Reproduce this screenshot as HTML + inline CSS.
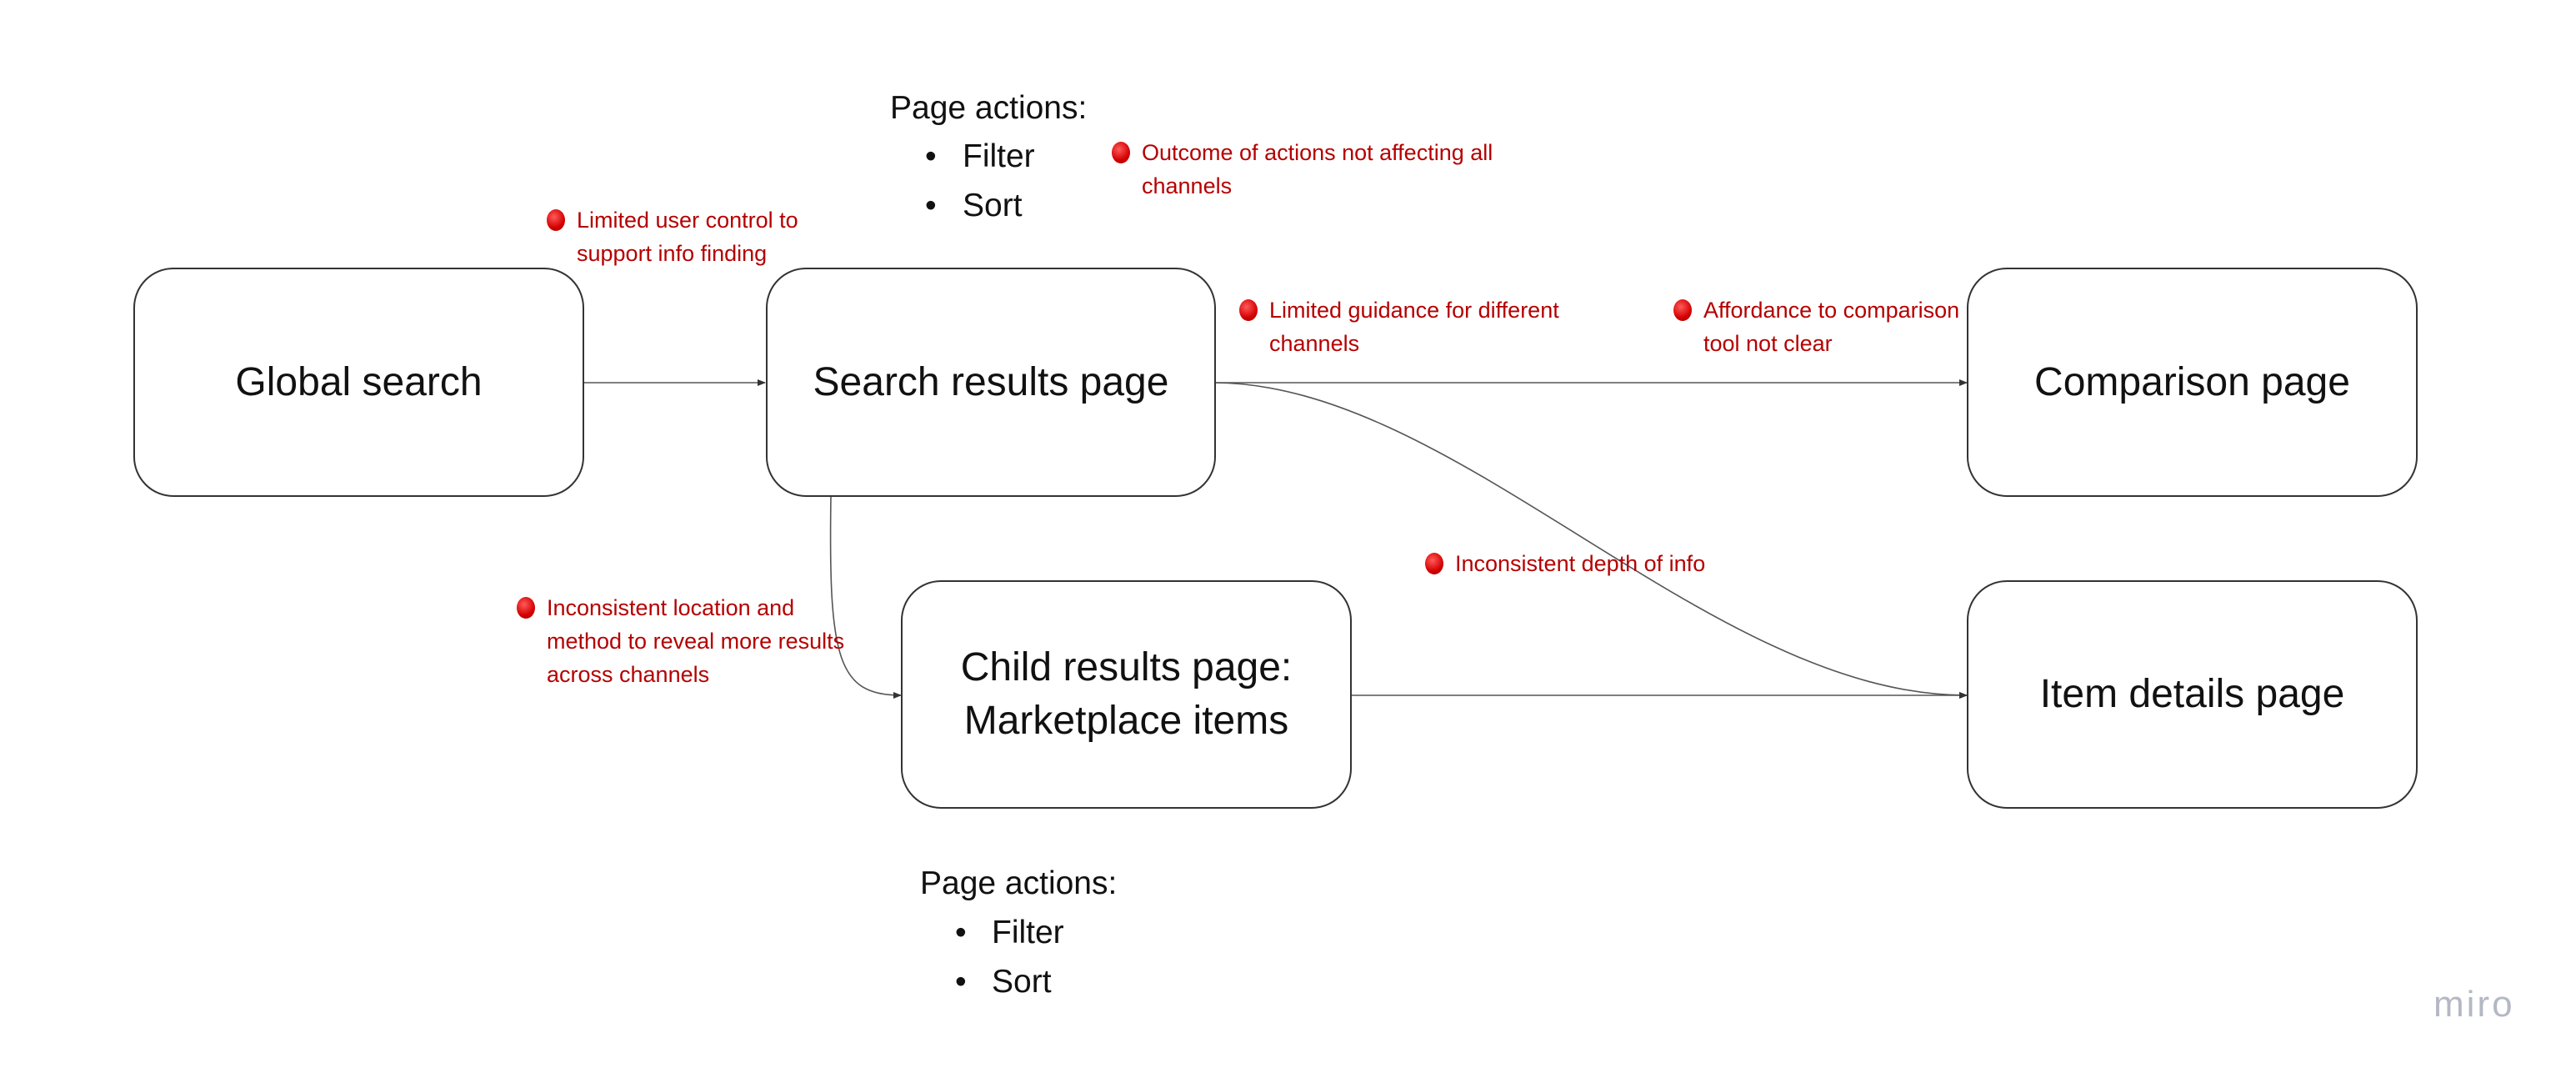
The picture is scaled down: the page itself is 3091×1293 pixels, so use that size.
<!DOCTYPE html>
<html><head><meta charset="utf-8"><style>
html,body{margin:0;padding:0;background:#fff;}
body{width:3091px;height:1293px;position:relative;overflow:hidden;font-family:"Liberation Sans",sans-serif;}
.box{position:absolute;border:2px solid #333;border-radius:48px;box-sizing:border-box;display:flex;align-items:center;justify-content:center;text-align:center;font-size:48px;color:#111;line-height:64px;}
.t{position:absolute;white-space:nowrap;color:#111;font-size:39px;}
.n{position:absolute;white-space:nowrap;color:#b50000;font-size:27px;line-height:40px;}
.n .d{position:absolute;left:-36px;top:7px;width:22px;height:26px;border-radius:50%;background:radial-gradient(circle at 40% 35%,#ff5a5a,#d40000 60%,#a00000);}
</style></head><body>
<svg width="3091" height="1293" style="position:absolute;left:0;top:0">
<defs><marker id="a" markerWidth="10" markerHeight="8" refX="9" refY="4" orient="auto" markerUnits="userSpaceOnUse"><path d="M0,0 L10,4 L0,8 z" fill="#333"/></marker></defs>
<g stroke="#555" stroke-width="1.6" fill="none">
<path d="M700 459 L918 459" marker-end="url(#a)"/>
<path d="M1457 459 L2360 459" marker-end="url(#a)"/>
<path d="M1457 459 C1750 460,2050 834,2360 834" marker-end="url(#a)"/>
<path d="M1621 834 L2360 834" marker-end="url(#a)"/>
<path d="M997 596 C994 790,1005 834,1081 834" marker-end="url(#a)"/>
</g></svg>
<div class="box" style="left:160px;top:321px;width:541px;height:275px">Global search</div>
<div class="box" style="left:919px;top:321px;width:540px;height:275px">Search results page</div>
<div class="box" style="left:2360px;top:321px;width:541px;height:275px">Comparison page</div>
<div class="box" style="left:2360px;top:696px;width:541px;height:274px">Item details page</div>
<div class="box" style="left:1081px;top:696px;width:541px;height:274px">Child results page:<br>Marketplace items</div>

<div class="t" style="left:1068px;top:108px">Page actions:</div>
<div class="t" style="left:1110px;top:166px">•</div><div class="t" style="left:1155px;top:166px">Filter</div>
<div class="t" style="left:1110px;top:225px">•</div><div class="t" style="left:1155px;top:225px">Sort</div>
<div class="t" style="left:1104px;top:1038px">Page actions:</div>
<div class="t" style="left:1146px;top:1097px">•</div><div class="t" style="left:1190px;top:1097px">Filter</div>
<div class="t" style="left:1146px;top:1156px">•</div><div class="t" style="left:1190px;top:1156px">Sort</div>

<div class="n" style="left:692px;top:244px"><span class="d"></span>Limited user control to<br>support info finding</div>
<div class="n" style="left:1370px;top:163px"><span class="d"></span>Outcome of actions not affecting all<br>channels</div>
<div class="n" style="left:1523px;top:352px"><span class="d"></span>Limited guidance for different<br>channels</div>
<div class="n" style="left:2044px;top:352px"><span class="d"></span>Affordance to comparison<br>tool not clear</div>
<div class="n" style="left:1746px;top:656px"><span class="d"></span>Inconsistent depth of info</div>
<div class="n" style="left:656px;top:709px"><span class="d"></span>Inconsistent location and<br>method to reveal more results<br>across channels</div>

<div style="position:absolute;left:2920px;top:1180px;font-size:44px;color:#b4b8c4;letter-spacing:3px">miro</div>
</body></html>
